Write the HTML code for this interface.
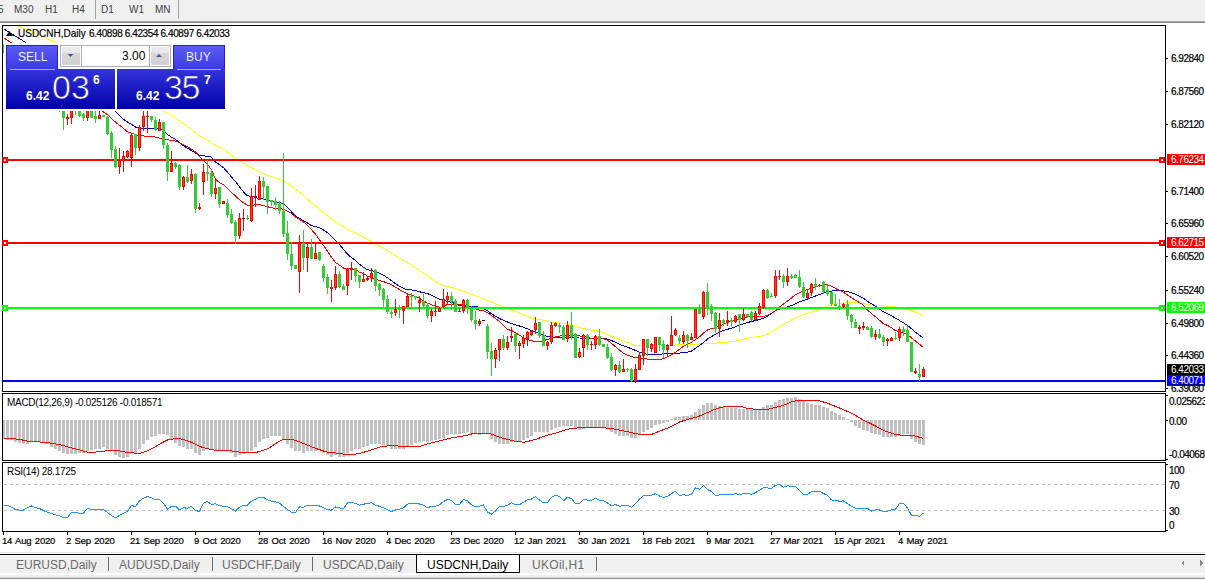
<!DOCTYPE html>
<html><head><meta charset="utf-8">
<style>
*{margin:0;padding:0;box-sizing:border-box}
html,body{width:1205px;height:580px;overflow:hidden;background:#fff;font-family:"Liberation Sans",sans-serif;position:relative}
.a{position:absolute;white-space:nowrap;line-height:1}
.tb{font-size:10px;color:#404040}
.ax{font-size:10px;color:#000;letter-spacing:-0.5px;-webkit-text-stroke:0.2px #000}
.bx{font-size:10px;color:#fff;letter-spacing:-0.5px}
.tab{font-size:12px;color:#6a6a6a}
svg{position:absolute;left:0;top:0}
</style></head><body>

<div class="a" style="left:0;top:0;width:1205px;height:21px;background:#f0f0f0"></div>
<div class="a" style="left:0;top:21px;width:1205px;height:1px;background:#a8a8a8"></div>
<div class="a" style="left:0;top:22px;width:1205px;height:1px;background:#868686"></div>
<div class="a" style="left:95px;top:0;width:1px;height:19px;background:#a0a0a0"></div>
<div class="a" style="left:178px;top:0;width:1px;height:19px;background:#a0a0a0"></div>
<div class="a" style="left:96px;top:0;width:24px;height:19px;background:repeating-conic-gradient(#f8f8f8 0 25%,#e8e8e8 0 50%) 0 0/2px 2px"></div>
<div class="a tb" style="left:-2px;top:5px">5</div>
<div class="a tb" style="left:14px;top:5px">M30</div>
<div class="a tb" style="left:45px;top:5px">H1</div>
<div class="a tb" style="left:72px;top:5px">H4</div>
<div class="a tb" style="left:101px;top:5px">D1</div>
<div class="a tb" style="left:129px;top:5px">W1</div>
<div class="a tb" style="left:155px;top:5px">MN</div>
<svg width="1205" height="580" shape-rendering="crispEdges">
<rect x="2.5" y="25.5" width="1163" height="366" fill="none" stroke="#000"/>
<rect x="2.5" y="393.5" width="1163" height="67" fill="none" stroke="#000"/>
<rect x="2.5" y="462.5" width="1163" height="69" fill="none" stroke="#000"/>
<defs><clipPath id="cm"><rect x="3" y="26" width="1162" height="365"/></clipPath><clipPath id="cd"><rect x="3" y="394" width="1162" height="66"/></clipPath><clipPath id="cr"><rect x="3" y="463" width="1162" height="68"/></clipPath></defs>
<g clip-path="url(#cm)">
<polyline points="3.5,19.6 7.5,21.3 11.5,23.0 15.5,24.8 19.5,26.5 23.5,28.2 27.5,30.0 31.5,31.7 35.5,33.4 39.5,35.2 43.5,36.9 47.5,38.7 51.5,40.4 55.5,42.1 59.5,44.3 63.5,46.8 67.5,49.4 71.5,52.0 75.5,54.5 79.5,57.1 83.5,59.7 87.5,62.2 91.5,64.8 95.5,67.4 99.5,69.9 103.5,72.5 107.5,75.1 111.5,77.6 115.5,80.2 119.5,82.7 123.5,85.3 127.5,87.9 131.5,90.4 135.5,93.0 139.5,95.6 143.5,98.1 147.5,100.7 151.5,103.3 155.5,105.8 159.5,108.4 163.5,111.0 167.5,113.2 171.5,115.3 175.5,117.8 179.5,120.8 183.5,123.7 187.5,126.5 191.5,129.5 195.5,132.8 199.5,135.8 203.5,137.7 207.5,140.1 211.5,143.2 215.5,145.7 219.5,147.4 223.5,149.1 227.5,152.1 231.5,155.2 235.5,158.4 239.5,161.0 243.5,163.3 247.5,165.6 251.5,167.7 255.5,169.7 259.5,171.7 263.5,173.7 267.5,175.1 271.5,176.4 275.5,177.8 279.5,179.4 283.5,180.9 287.5,183.3 291.5,186.3 295.5,189.2 299.5,192.2 303.5,195.4 307.5,199.2 311.5,202.8 315.5,206.1 319.5,209.5 323.5,212.7 327.5,215.7 331.5,218.8 335.5,221.7 339.5,224.1 343.5,226.6 347.5,229.1 351.5,231.6 355.5,232.7 359.5,234.5 363.5,237.0 367.5,239.4 371.5,241.6 375.5,244.0 379.5,246.5 383.5,248.3 387.5,250.6 391.5,253.1 395.5,255.7 399.5,258.2 403.5,260.7 407.5,262.7 411.5,264.7 415.5,267.7 419.5,270.5 423.5,273.0 427.5,275.8 431.5,278.8 435.5,281.5 439.5,283.7 443.5,285.8 447.5,286.4 451.5,287.4 455.5,288.6 459.5,290.0 463.5,291.3 467.5,292.7 471.5,294.2 475.5,295.7 479.5,297.3 483.5,298.9 487.5,300.5 491.5,302.1 495.5,303.7 499.5,305.2 503.5,306.7 507.5,308.3 511.5,310.0 515.5,311.5 519.5,313.0 523.5,314.5 527.5,316.3 531.5,318.0 535.5,318.9 539.5,319.4 543.5,320.2 547.5,321.2 551.5,322.2 555.5,322.5 559.5,322.9 563.5,323.6 567.5,324.4 571.5,325.2 575.5,326.4 579.5,327.6 583.5,328.6 587.5,329.4 591.5,330.1 595.5,330.6 599.5,331.3 603.5,333.0 607.5,334.5 611.5,336.0 615.5,337.6 619.5,339.2 623.5,340.9 627.5,342.5 631.5,344.1 635.5,345.7 639.5,345.8 643.5,345.9 647.5,345.9 651.5,346.0 655.5,345.8 659.5,345.6 663.5,345.5 667.5,345.3 671.5,345.2 675.5,345.0 679.5,344.8 683.5,344.7 687.5,344.5 691.5,344.4 695.5,344.2 699.5,344.0 703.5,343.8 707.5,343.6 711.5,343.4 715.5,343.1 719.5,342.9 723.5,342.6 727.5,342.2 731.5,341.8 735.5,341.1 739.5,340.1 743.5,339.2 747.5,338.3 751.5,337.4 755.5,337.0 759.5,336.9 763.5,335.5 767.5,334.0 771.5,331.9 775.5,329.3 779.5,326.7 783.5,324.4 787.5,322.2 791.5,320.0 795.5,317.8 799.5,316.3 803.5,314.9 807.5,313.5 811.5,312.1 815.5,310.7 819.5,309.3 823.5,307.9 827.5,306.4 831.5,304.6 835.5,304.1 839.5,303.7 843.5,303.2 847.5,302.6 851.5,302.5 855.5,302.7 859.5,302.9 863.5,303.6 867.5,304.4 871.5,305.2 875.5,305.4 879.5,305.6 883.5,305.9 887.5,306.2 891.5,306.5 895.5,307.0 899.5,307.8 903.5,308.6 907.5,309.4 911.5,310.6 915.5,312.1 919.5,313.7 923.5,315.2" fill="none" stroke="#ffff00" stroke-width="1" shape-rendering="crispEdges"/>
<polyline points="3.5,28.8 7.5,31.3 11.5,33.7 15.5,36.2 19.5,38.7 23.5,41.1 27.5,43.8 31.5,46.8 35.5,49.9 39.5,53.0 43.5,56.1 47.5,59.2 51.5,62.2 55.5,65.3 59.5,68.4 63.5,71.5 67.5,74.6 71.5,77.6 75.5,80.7 79.5,83.8 83.5,86.9 87.5,89.9 91.5,93.0 95.5,96.1 99.5,99.2 103.5,102.3 107.5,105.3 111.5,108.4 115.5,111.5 119.5,115.5 123.5,119.4 127.5,122.0 131.5,124.3 135.5,127.0 139.5,128.4 143.5,128.7 147.5,128.7 151.5,128.7 155.5,128.7 159.5,128.7 163.5,131.0 167.5,134.6 171.5,137.1 175.5,139.5 179.5,142.5 183.5,145.7 187.5,148.3 191.5,150.5 195.5,153.0 199.5,155.1 203.5,155.8 207.5,156.3 211.5,157.2 215.5,162.0 219.5,164.8 223.5,167.6 227.5,172.2 231.5,177.0 235.5,181.6 239.5,186.9 243.5,191.8 247.5,195.8 251.5,196.4 255.5,197.4 259.5,198.7 263.5,198.9 267.5,199.4 271.5,201.2 275.5,201.8 279.5,202.4 283.5,203.8 287.5,207.5 291.5,211.8 295.5,215.8 299.5,218.5 303.5,220.6 307.5,222.9 311.5,225.6 315.5,226.6 319.5,227.9 323.5,229.9 327.5,232.7 331.5,236.7 335.5,240.4 339.5,244.6 343.5,249.4 347.5,254.2 351.5,257.5 355.5,260.4 359.5,264.2 363.5,267.3 367.5,269.7 371.5,270.7 375.5,271.4 379.5,273.1 383.5,275.1 387.5,277.8 391.5,280.8 395.5,283.6 399.5,286.4 403.5,288.4 407.5,289.8 411.5,289.9 415.5,290.5 419.5,291.8 423.5,292.7 427.5,293.6 431.5,295.4 435.5,297.4 439.5,299.4 443.5,300.4 447.5,301.3 451.5,302.3 455.5,303.7 459.5,305.4 463.5,306.1 467.5,306.4 471.5,306.5 475.5,306.6 479.5,307.3 483.5,308.8 487.5,310.8 491.5,313.8 495.5,316.2 499.5,318.5 503.5,320.4 507.5,322.0 511.5,323.6 515.5,324.8 519.5,326.0 523.5,327.3 527.5,328.9 531.5,330.5 535.5,331.9 539.5,333.2 543.5,335.0 547.5,336.7 551.5,337.3 555.5,337.8 559.5,337.8 563.5,337.8 567.5,337.8 571.5,337.8 575.5,337.9 579.5,338.0 583.5,338.1 587.5,338.2 591.5,338.2 595.5,338.3 599.5,338.3 603.5,338.4 607.5,339.1 611.5,340.6 615.5,342.4 619.5,344.3 623.5,345.9 627.5,347.3 631.5,348.7 635.5,350.5 639.5,352.3 643.5,353.4 647.5,354.3 651.5,354.8 655.5,354.8 659.5,354.3 663.5,353.8 667.5,353.8 671.5,353.8 675.5,353.5 679.5,353.1 683.5,352.6 687.5,352.1 691.5,351.0 695.5,348.2 699.5,345.5 703.5,342.4 707.5,339.1 711.5,336.6 715.5,334.2 719.5,332.3 723.5,330.5 727.5,329.3 731.5,328.1 735.5,326.7 739.5,325.2 743.5,323.8 747.5,322.5 751.5,321.5 755.5,320.5 759.5,319.5 763.5,318.1 767.5,316.1 771.5,313.5 775.5,310.9 779.5,309.0 783.5,308.0 787.5,307.0 791.5,305.5 795.5,303.8 799.5,301.9 803.5,300.4 807.5,299.0 811.5,297.6 815.5,296.0 819.5,294.4 823.5,293.0 827.5,291.9 831.5,291.1 835.5,290.7 839.5,290.8 843.5,290.9 847.5,291.6 851.5,292.7 855.5,294.3 859.5,296.1 863.5,298.2 867.5,301.4 871.5,303.8 875.5,306.2 879.5,309.2 883.5,311.8 887.5,313.8 891.5,315.8 895.5,318.1 899.5,320.5 903.5,322.9 907.5,325.4 911.5,328.8 915.5,332.2 919.5,335.2 923.5,338.2" fill="none" stroke="#0000cd" stroke-width="1" shape-rendering="crispEdges"/>
<polyline points="3.5,37.6 7.5,40.3 11.5,43.0 15.5,46.0 19.5,49.0 23.5,52.0 27.5,55.0 31.5,58.1 35.5,61.1 39.5,64.1 43.5,67.1 47.5,70.1 51.5,73.1 55.5,76.1 59.5,79.1 63.5,82.1 67.5,85.2 71.5,88.2 75.5,91.2 79.5,94.2 83.5,97.2 87.5,100.2 91.5,103.2 95.5,106.2 99.5,109.2 103.5,112.1 107.5,114.7 111.5,118.4 115.5,122.1 119.5,125.2 123.5,128.3 127.5,131.8 131.5,133.3 135.5,134.6 139.5,135.5 143.5,136.0 147.5,136.2 151.5,136.4 155.5,137.1 159.5,138.2 163.5,139.1 167.5,139.8 171.5,140.5 175.5,141.1 179.5,142.8 183.5,144.8 187.5,146.8 191.5,149.1 195.5,152.0 199.5,156.4 203.5,160.7 207.5,164.0 211.5,170.0 215.5,179.2 219.5,182.5 223.5,184.8 227.5,188.5 231.5,192.5 235.5,195.9 239.5,199.7 243.5,202.7 247.5,205.4 251.5,205.3 255.5,204.8 259.5,204.8 263.5,205.5 267.5,206.7 271.5,207.9 275.5,208.2 279.5,208.5 283.5,209.4 287.5,211.2 291.5,213.4 295.5,217.0 299.5,219.4 303.5,221.8 307.5,225.7 311.5,229.6 315.5,234.2 319.5,239.8 323.5,245.4 327.5,251.1 331.5,257.4 335.5,262.5 339.5,265.1 343.5,268.1 347.5,268.8 351.5,268.9 355.5,269.7 359.5,272.1 363.5,273.4 367.5,276.3 371.5,277.6 375.5,279.1 379.5,280.6 383.5,281.6 387.5,283.1 391.5,284.8 395.5,287.1 399.5,289.6 403.5,291.8 407.5,293.8 411.5,295.2 415.5,296.6 419.5,298.4 423.5,300.7 427.5,303.2 431.5,304.7 435.5,306.1 439.5,307.1 443.5,307.1 447.5,304.3 451.5,304.3 455.5,304.5 459.5,304.8 463.5,305.2 467.5,306.0 471.5,307.5 475.5,308.9 479.5,310.1 483.5,310.8 487.5,312.6 491.5,315.6 495.5,318.6 499.5,321.6 503.5,325.5 507.5,329.6 511.5,330.4 515.5,332.7 519.5,335.3 523.5,337.7 527.5,339.5 531.5,340.7 535.5,341.4 539.5,341.7 543.5,340.7 547.5,339.3 551.5,338.4 555.5,337.0 559.5,336.1 563.5,335.5 567.5,335.3 571.5,335.0 575.5,335.4 579.5,335.9 583.5,336.5 587.5,337.4 591.5,338.4 595.5,338.6 599.5,338.6 603.5,338.6 607.5,340.1 611.5,343.5 615.5,346.7 619.5,350.0 623.5,353.4 627.5,355.1 631.5,356.5 635.5,357.9 639.5,357.9 643.5,358.3 647.5,359.1 651.5,359.9 655.5,359.7 659.5,359.3 663.5,358.9 667.5,356.9 671.5,354.9 675.5,352.3 679.5,349.4 683.5,346.2 687.5,344.0 691.5,342.2 695.5,339.5 699.5,336.9 703.5,333.0 707.5,330.0 711.5,328.5 715.5,327.7 719.5,326.2 723.5,324.0 727.5,322.3 731.5,321.4 735.5,320.3 739.5,319.0 743.5,317.8 747.5,317.0 751.5,316.6 755.5,316.4 759.5,316.6 763.5,316.6 767.5,315.1 771.5,313.4 775.5,310.8 779.5,307.1 783.5,304.1 787.5,301.1 791.5,297.9 795.5,294.8 799.5,292.7 803.5,290.9 807.5,289.4 811.5,288.1 815.5,286.8 819.5,285.7 823.5,285.1 827.5,284.9 831.5,286.1 835.5,288.5 839.5,290.4 843.5,292.3 847.5,294.9 851.5,297.6 855.5,300.2 859.5,302.5 863.5,305.1 867.5,310.1 871.5,313.5 875.5,316.8 879.5,320.3 883.5,323.7 887.5,325.4 891.5,327.7 895.5,330.6 899.5,331.5 903.5,332.7 907.5,334.5 911.5,337.9 915.5,341.1 919.5,344.3 923.5,347.5" fill="none" stroke="#ff0000" stroke-width="1" shape-rendering="crispEdges"/>
<rect x="3" y="159" width="1162" height="2" fill="#ff0000"/>
<rect x="3" y="242" width="1162" height="2" fill="#ff0000"/>
<rect x="3" y="307" width="1162" height="2" fill="#00ff00"/>
<rect x="3" y="380" width="1162" height="2" fill="#0000ff"/>
<rect x="3" y="44" width="1" height="9" fill="#32cd32"/>
<rect x="2" y="46" width="3" height="4" fill="#32cd32"/>
<rect x="7" y="48" width="1" height="12" fill="#ff0000"/>
<rect x="6" y="50" width="3" height="6" fill="#ff0000"/>
<rect x="7" y="51" width="1" height="4" fill="#ff4500"/>
<rect x="11" y="52" width="1" height="14" fill="#32cd32"/>
<rect x="10" y="54" width="3" height="8" fill="#32cd32"/>
<rect x="15" y="58" width="1" height="12" fill="#32cd32"/>
<rect x="14" y="60" width="3" height="8" fill="#32cd32"/>
<rect x="19" y="60" width="1" height="14" fill="#ff0000"/>
<rect x="18" y="63" width="3" height="7" fill="#ff0000"/>
<rect x="19" y="64" width="1" height="5" fill="#ff4500"/>
<rect x="23" y="62" width="1" height="18" fill="#32cd32"/>
<rect x="22" y="64" width="3" height="12" fill="#32cd32"/>
<rect x="27" y="72" width="1" height="14" fill="#32cd32"/>
<rect x="26" y="75" width="3" height="7" fill="#32cd32"/>
<rect x="31" y="70" width="1" height="14" fill="#ff0000"/>
<rect x="30" y="74" width="3" height="6" fill="#ff0000"/>
<rect x="31" y="75" width="1" height="4" fill="#ff4500"/>
<rect x="35" y="74" width="1" height="16" fill="#32cd32"/>
<rect x="34" y="76" width="3" height="10" fill="#32cd32"/>
<rect x="39" y="80" width="1" height="12" fill="#ff0000"/>
<rect x="38" y="83" width="3" height="5" fill="#ff0000"/>
<rect x="39" y="84" width="1" height="3" fill="#ff4500"/>
<rect x="43" y="82" width="1" height="16" fill="#32cd32"/>
<rect x="42" y="86" width="3" height="8" fill="#32cd32"/>
<rect x="47" y="90" width="1" height="14" fill="#32cd32"/>
<rect x="46" y="92" width="3" height="8" fill="#32cd32"/>
<rect x="51" y="92" width="1" height="12" fill="#ff0000"/>
<rect x="50" y="96" width="3" height="5" fill="#ff0000"/>
<rect x="51" y="97" width="1" height="3" fill="#ff4500"/>
<rect x="55" y="96" width="1" height="13" fill="#32cd32"/>
<rect x="54" y="100" width="3" height="6" fill="#32cd32"/>
<rect x="59" y="100" width="1" height="12" fill="#32cd32"/>
<rect x="58" y="103" width="3" height="5" fill="#32cd32"/>
<rect x="63" y="100" width="1" height="30" fill="#32cd32"/>
<rect x="62" y="104" width="3" height="14" fill="#32cd32"/>
<rect x="67" y="114" width="1" height="11" fill="#ff0000"/>
<rect x="66" y="117" width="3" height="2" fill="#ff0000"/>
<rect x="71" y="104" width="1" height="20" fill="#ff0000"/>
<rect x="70" y="106" width="3" height="12" fill="#ff0000"/>
<rect x="71" y="107" width="1" height="10" fill="#ff4500"/>
<rect x="75" y="100" width="1" height="15" fill="#32cd32"/>
<rect x="74" y="103" width="3" height="5" fill="#32cd32"/>
<rect x="79" y="104" width="1" height="13" fill="#32cd32"/>
<rect x="78" y="108" width="3" height="8" fill="#32cd32"/>
<rect x="83" y="113" width="1" height="8" fill="#32cd32"/>
<rect x="82" y="114" width="3" height="4" fill="#32cd32"/>
<rect x="87" y="104" width="1" height="17" fill="#ff0000"/>
<rect x="86" y="108" width="3" height="10" fill="#ff0000"/>
<rect x="87" y="109" width="1" height="8" fill="#ff4500"/>
<rect x="91" y="104" width="1" height="14" fill="#32cd32"/>
<rect x="90" y="110" width="3" height="8" fill="#32cd32"/>
<rect x="95" y="106" width="1" height="17" fill="#32cd32"/>
<rect x="94" y="116" width="3" height="3" fill="#32cd32"/>
<rect x="99" y="111" width="1" height="8" fill="#ff0000"/>
<rect x="98" y="115" width="3" height="4" fill="#ff0000"/>
<rect x="99" y="116" width="1" height="2" fill="#ff4500"/>
<rect x="103" y="115" width="1" height="2" fill="#32cd32"/>
<rect x="102" y="115" width="3" height="2" fill="#32cd32"/>
<rect x="107" y="116" width="1" height="19" fill="#32cd32"/>
<rect x="106" y="117" width="3" height="17" fill="#32cd32"/>
<rect x="111" y="131" width="1" height="27" fill="#32cd32"/>
<rect x="110" y="133" width="3" height="17" fill="#32cd32"/>
<rect x="115" y="146" width="1" height="22" fill="#32cd32"/>
<rect x="114" y="149" width="3" height="18" fill="#32cd32"/>
<rect x="119" y="148" width="1" height="26" fill="#ff0000"/>
<rect x="118" y="160" width="3" height="7" fill="#ff0000"/>
<rect x="119" y="161" width="1" height="5" fill="#ff4500"/>
<rect x="123" y="151" width="1" height="21" fill="#ff0000"/>
<rect x="122" y="156" width="3" height="4" fill="#ff0000"/>
<rect x="123" y="157" width="1" height="2" fill="#ff4500"/>
<rect x="127" y="150" width="1" height="8" fill="#ff0000"/>
<rect x="126" y="151" width="3" height="6" fill="#ff0000"/>
<rect x="127" y="152" width="1" height="4" fill="#ff4500"/>
<rect x="131" y="133" width="1" height="34" fill="#ff0000"/>
<rect x="130" y="135" width="3" height="23" fill="#ff0000"/>
<rect x="131" y="136" width="1" height="21" fill="#ff4500"/>
<rect x="135" y="134" width="1" height="21" fill="#32cd32"/>
<rect x="134" y="134" width="3" height="14" fill="#32cd32"/>
<rect x="139" y="125" width="1" height="26" fill="#ff0000"/>
<rect x="138" y="127" width="3" height="21" fill="#ff0000"/>
<rect x="139" y="128" width="1" height="19" fill="#ff4500"/>
<rect x="143" y="111" width="1" height="20" fill="#ff0000"/>
<rect x="142" y="116" width="3" height="11" fill="#ff0000"/>
<rect x="143" y="117" width="1" height="9" fill="#ff4500"/>
<rect x="147" y="111" width="1" height="22" fill="#ff0000"/>
<rect x="146" y="116" width="3" height="1" fill="#ff0000"/>
<rect x="151" y="116" width="1" height="6" fill="#32cd32"/>
<rect x="150" y="116" width="3" height="4" fill="#32cd32"/>
<rect x="155" y="117" width="1" height="14" fill="#32cd32"/>
<rect x="154" y="120" width="3" height="10" fill="#32cd32"/>
<rect x="159" y="119" width="1" height="12" fill="#ff0000"/>
<rect x="158" y="122" width="3" height="9" fill="#ff0000"/>
<rect x="159" y="123" width="1" height="7" fill="#ff4500"/>
<rect x="163" y="122" width="1" height="27" fill="#32cd32"/>
<rect x="162" y="122" width="3" height="23" fill="#32cd32"/>
<rect x="167" y="143" width="1" height="38" fill="#32cd32"/>
<rect x="166" y="145" width="3" height="27" fill="#32cd32"/>
<rect x="171" y="151" width="1" height="21" fill="#ff0000"/>
<rect x="170" y="163" width="3" height="9" fill="#ff0000"/>
<rect x="171" y="164" width="1" height="7" fill="#ff4500"/>
<rect x="175" y="162" width="1" height="7" fill="#32cd32"/>
<rect x="174" y="163" width="3" height="4" fill="#32cd32"/>
<rect x="179" y="164" width="1" height="26" fill="#32cd32"/>
<rect x="178" y="165" width="3" height="22" fill="#32cd32"/>
<rect x="183" y="176" width="1" height="14" fill="#ff0000"/>
<rect x="182" y="177" width="3" height="10" fill="#ff0000"/>
<rect x="183" y="178" width="1" height="8" fill="#ff4500"/>
<rect x="187" y="165" width="1" height="18" fill="#32cd32"/>
<rect x="186" y="177" width="3" height="5" fill="#32cd32"/>
<rect x="191" y="169" width="1" height="15" fill="#ff0000"/>
<rect x="190" y="174" width="3" height="7" fill="#ff0000"/>
<rect x="191" y="175" width="1" height="5" fill="#ff4500"/>
<rect x="195" y="173" width="1" height="40" fill="#32cd32"/>
<rect x="194" y="174" width="3" height="35" fill="#32cd32"/>
<rect x="199" y="203" width="1" height="7" fill="#ff0000"/>
<rect x="198" y="207" width="3" height="2" fill="#ff0000"/>
<rect x="203" y="164" width="1" height="31" fill="#ff0000"/>
<rect x="202" y="172" width="3" height="10" fill="#ff0000"/>
<rect x="203" y="173" width="1" height="8" fill="#ff4500"/>
<rect x="207" y="160" width="1" height="21" fill="#32cd32"/>
<rect x="206" y="172" width="3" height="2" fill="#32cd32"/>
<rect x="211" y="169" width="1" height="28" fill="#32cd32"/>
<rect x="210" y="173" width="3" height="21" fill="#32cd32"/>
<rect x="215" y="179" width="1" height="20" fill="#ff0000"/>
<rect x="214" y="188" width="3" height="6" fill="#ff0000"/>
<rect x="215" y="189" width="1" height="4" fill="#ff4500"/>
<rect x="219" y="187" width="1" height="21" fill="#32cd32"/>
<rect x="218" y="187" width="3" height="17" fill="#32cd32"/>
<rect x="223" y="201" width="1" height="3" fill="#ff0000"/>
<rect x="222" y="201" width="3" height="3" fill="#ff0000"/>
<rect x="223" y="202" width="1" height="1" fill="#ff4500"/>
<rect x="227" y="199" width="1" height="19" fill="#32cd32"/>
<rect x="226" y="203" width="3" height="12" fill="#32cd32"/>
<rect x="231" y="209" width="1" height="15" fill="#32cd32"/>
<rect x="230" y="214" width="3" height="9" fill="#32cd32"/>
<rect x="235" y="220" width="1" height="24" fill="#32cd32"/>
<rect x="234" y="222" width="3" height="14" fill="#32cd32"/>
<rect x="239" y="213" width="1" height="26" fill="#ff0000"/>
<rect x="238" y="218" width="3" height="18" fill="#ff0000"/>
<rect x="239" y="219" width="1" height="16" fill="#ff4500"/>
<rect x="243" y="209" width="1" height="22" fill="#ff0000"/>
<rect x="242" y="218" width="3" height="1" fill="#ff0000"/>
<rect x="247" y="215" width="1" height="5" fill="#32cd32"/>
<rect x="246" y="218" width="3" height="1" fill="#32cd32"/>
<rect x="251" y="188" width="1" height="34" fill="#ff0000"/>
<rect x="250" y="196" width="3" height="25" fill="#ff0000"/>
<rect x="251" y="197" width="1" height="23" fill="#ff4500"/>
<rect x="255" y="185" width="1" height="22" fill="#ff0000"/>
<rect x="254" y="196" width="3" height="1" fill="#ff0000"/>
<rect x="259" y="176" width="1" height="24" fill="#ff0000"/>
<rect x="258" y="181" width="3" height="19" fill="#ff0000"/>
<rect x="259" y="182" width="1" height="17" fill="#ff4500"/>
<rect x="263" y="177" width="1" height="23" fill="#32cd32"/>
<rect x="262" y="181" width="3" height="6" fill="#32cd32"/>
<rect x="267" y="186" width="1" height="28" fill="#32cd32"/>
<rect x="266" y="186" width="3" height="16" fill="#32cd32"/>
<rect x="271" y="200" width="1" height="6" fill="#32cd32"/>
<rect x="270" y="200" width="3" height="2" fill="#32cd32"/>
<rect x="275" y="197" width="1" height="13" fill="#32cd32"/>
<rect x="274" y="201" width="3" height="4" fill="#32cd32"/>
<rect x="279" y="201" width="1" height="13" fill="#32cd32"/>
<rect x="278" y="204" width="3" height="7" fill="#32cd32"/>
<rect x="283" y="153" width="1" height="84" fill="#32cd32"/>
<rect x="282" y="211" width="3" height="23" fill="#32cd32"/>
<rect x="287" y="221" width="1" height="39" fill="#32cd32"/>
<rect x="286" y="233" width="3" height="21" fill="#32cd32"/>
<rect x="291" y="242" width="1" height="28" fill="#32cd32"/>
<rect x="290" y="254" width="3" height="12" fill="#32cd32"/>
<rect x="295" y="265" width="1" height="4" fill="#32cd32"/>
<rect x="294" y="265" width="3" height="4" fill="#32cd32"/>
<rect x="299" y="235" width="1" height="58" fill="#ff0000"/>
<rect x="298" y="243" width="3" height="29" fill="#ff0000"/>
<rect x="299" y="244" width="1" height="27" fill="#ff4500"/>
<rect x="303" y="230" width="1" height="40" fill="#32cd32"/>
<rect x="302" y="243" width="3" height="15" fill="#32cd32"/>
<rect x="307" y="243" width="1" height="29" fill="#ff0000"/>
<rect x="306" y="247" width="3" height="11" fill="#ff0000"/>
<rect x="307" y="248" width="1" height="9" fill="#ff4500"/>
<rect x="311" y="239" width="1" height="20" fill="#32cd32"/>
<rect x="310" y="247" width="3" height="12" fill="#32cd32"/>
<rect x="315" y="243" width="1" height="16" fill="#ff0000"/>
<rect x="314" y="253" width="3" height="6" fill="#ff0000"/>
<rect x="315" y="254" width="1" height="4" fill="#ff4500"/>
<rect x="319" y="252" width="1" height="9" fill="#32cd32"/>
<rect x="318" y="252" width="3" height="8" fill="#32cd32"/>
<rect x="323" y="264" width="1" height="18" fill="#32cd32"/>
<rect x="322" y="266" width="3" height="12" fill="#32cd32"/>
<rect x="327" y="274" width="1" height="20" fill="#32cd32"/>
<rect x="326" y="277" width="3" height="11" fill="#32cd32"/>
<rect x="331" y="280" width="1" height="22" fill="#ff0000"/>
<rect x="330" y="287" width="3" height="2" fill="#ff0000"/>
<rect x="335" y="266" width="1" height="24" fill="#ff0000"/>
<rect x="334" y="274" width="3" height="14" fill="#ff0000"/>
<rect x="335" y="275" width="1" height="12" fill="#ff4500"/>
<rect x="339" y="271" width="1" height="17" fill="#32cd32"/>
<rect x="338" y="274" width="3" height="13" fill="#32cd32"/>
<rect x="343" y="284" width="1" height="6" fill="#32cd32"/>
<rect x="342" y="286" width="3" height="4" fill="#32cd32"/>
<rect x="347" y="268" width="1" height="27" fill="#ff0000"/>
<rect x="346" y="268" width="3" height="18" fill="#ff0000"/>
<rect x="347" y="269" width="1" height="16" fill="#ff4500"/>
<rect x="351" y="262" width="1" height="18" fill="#ff0000"/>
<rect x="350" y="268" width="3" height="2" fill="#ff0000"/>
<rect x="355" y="268" width="1" height="14" fill="#32cd32"/>
<rect x="354" y="268" width="3" height="8" fill="#32cd32"/>
<rect x="359" y="275" width="1" height="13" fill="#32cd32"/>
<rect x="358" y="275" width="3" height="7" fill="#32cd32"/>
<rect x="363" y="272" width="1" height="10" fill="#ff0000"/>
<rect x="362" y="279" width="3" height="3" fill="#ff0000"/>
<rect x="363" y="280" width="1" height="1" fill="#ff4500"/>
<rect x="367" y="276" width="1" height="5" fill="#ff0000"/>
<rect x="366" y="278" width="3" height="2" fill="#ff0000"/>
<rect x="371" y="268" width="1" height="14" fill="#ff0000"/>
<rect x="370" y="273" width="3" height="5" fill="#ff0000"/>
<rect x="371" y="274" width="1" height="3" fill="#ff4500"/>
<rect x="375" y="269" width="1" height="22" fill="#32cd32"/>
<rect x="374" y="270" width="3" height="16" fill="#32cd32"/>
<rect x="379" y="283" width="1" height="13" fill="#32cd32"/>
<rect x="378" y="284" width="3" height="6" fill="#32cd32"/>
<rect x="383" y="288" width="1" height="19" fill="#32cd32"/>
<rect x="382" y="289" width="3" height="11" fill="#32cd32"/>
<rect x="387" y="295" width="1" height="19" fill="#32cd32"/>
<rect x="386" y="299" width="3" height="13" fill="#32cd32"/>
<rect x="391" y="310" width="1" height="8" fill="#32cd32"/>
<rect x="390" y="312" width="3" height="2" fill="#32cd32"/>
<rect x="395" y="299" width="1" height="17" fill="#ff0000"/>
<rect x="394" y="309" width="3" height="4" fill="#ff0000"/>
<rect x="395" y="310" width="1" height="2" fill="#ff4500"/>
<rect x="399" y="305" width="1" height="13" fill="#32cd32"/>
<rect x="398" y="308" width="3" height="2" fill="#32cd32"/>
<rect x="403" y="306" width="1" height="18" fill="#ff0000"/>
<rect x="402" y="306" width="3" height="5" fill="#ff0000"/>
<rect x="403" y="307" width="1" height="3" fill="#ff4500"/>
<rect x="407" y="293" width="1" height="14" fill="#ff0000"/>
<rect x="406" y="296" width="3" height="11" fill="#ff0000"/>
<rect x="407" y="297" width="1" height="9" fill="#ff4500"/>
<rect x="411" y="293" width="1" height="15" fill="#32cd32"/>
<rect x="410" y="296" width="3" height="1" fill="#32cd32"/>
<rect x="415" y="296" width="1" height="4" fill="#32cd32"/>
<rect x="414" y="296" width="3" height="2" fill="#32cd32"/>
<rect x="419" y="296" width="1" height="16" fill="#ff0000"/>
<rect x="418" y="300" width="3" height="3" fill="#ff0000"/>
<rect x="419" y="301" width="1" height="1" fill="#ff4500"/>
<rect x="423" y="294" width="1" height="13" fill="#32cd32"/>
<rect x="422" y="301" width="3" height="5" fill="#32cd32"/>
<rect x="427" y="303" width="1" height="16" fill="#32cd32"/>
<rect x="426" y="305" width="3" height="11" fill="#32cd32"/>
<rect x="431" y="309" width="1" height="13" fill="#ff0000"/>
<rect x="430" y="311" width="3" height="5" fill="#ff0000"/>
<rect x="431" y="312" width="1" height="3" fill="#ff4500"/>
<rect x="435" y="301" width="1" height="15" fill="#ff0000"/>
<rect x="434" y="311" width="3" height="1" fill="#ff0000"/>
<rect x="439" y="307" width="1" height="5" fill="#ff0000"/>
<rect x="438" y="308" width="3" height="4" fill="#ff0000"/>
<rect x="439" y="309" width="1" height="2" fill="#ff4500"/>
<rect x="443" y="289" width="1" height="19" fill="#ff0000"/>
<rect x="442" y="299" width="3" height="8" fill="#ff0000"/>
<rect x="443" y="300" width="1" height="6" fill="#ff4500"/>
<rect x="447" y="292" width="1" height="12" fill="#ff0000"/>
<rect x="446" y="296" width="3" height="4" fill="#ff0000"/>
<rect x="447" y="297" width="1" height="2" fill="#ff4500"/>
<rect x="451" y="292" width="1" height="18" fill="#32cd32"/>
<rect x="450" y="296" width="3" height="6" fill="#32cd32"/>
<rect x="455" y="299" width="1" height="13" fill="#32cd32"/>
<rect x="454" y="301" width="3" height="11" fill="#32cd32"/>
<rect x="459" y="309" width="1" height="3" fill="#ff0000"/>
<rect x="458" y="311" width="3" height="1" fill="#ff0000"/>
<rect x="463" y="299" width="1" height="14" fill="#ff0000"/>
<rect x="462" y="300" width="3" height="11" fill="#ff0000"/>
<rect x="463" y="301" width="1" height="9" fill="#ff4500"/>
<rect x="467" y="299" width="1" height="15" fill="#32cd32"/>
<rect x="466" y="300" width="3" height="8" fill="#32cd32"/>
<rect x="471" y="306" width="1" height="16" fill="#32cd32"/>
<rect x="470" y="307" width="3" height="13" fill="#32cd32"/>
<rect x="475" y="311" width="1" height="18" fill="#32cd32"/>
<rect x="474" y="320" width="3" height="4" fill="#32cd32"/>
<rect x="479" y="319" width="1" height="7" fill="#ff0000"/>
<rect x="478" y="321" width="3" height="3" fill="#ff0000"/>
<rect x="479" y="322" width="1" height="1" fill="#ff4500"/>
<rect x="482" y="320" width="3" height="1" fill="#000"/>
<rect x="487" y="324" width="1" height="35" fill="#32cd32"/>
<rect x="486" y="326" width="3" height="26" fill="#32cd32"/>
<rect x="491" y="343" width="1" height="33" fill="#32cd32"/>
<rect x="490" y="351" width="3" height="8" fill="#32cd32"/>
<rect x="495" y="348" width="1" height="20" fill="#ff0000"/>
<rect x="494" y="350" width="3" height="9" fill="#ff0000"/>
<rect x="495" y="351" width="1" height="7" fill="#ff4500"/>
<rect x="499" y="339" width="1" height="22" fill="#ff0000"/>
<rect x="498" y="339" width="3" height="11" fill="#ff0000"/>
<rect x="499" y="340" width="1" height="9" fill="#ff4500"/>
<rect x="503" y="335" width="1" height="15" fill="#32cd32"/>
<rect x="502" y="339" width="3" height="9" fill="#32cd32"/>
<rect x="507" y="336" width="1" height="14" fill="#ff0000"/>
<rect x="506" y="342" width="3" height="6" fill="#ff0000"/>
<rect x="507" y="343" width="1" height="4" fill="#ff4500"/>
<rect x="511" y="327" width="1" height="15" fill="#ff0000"/>
<rect x="510" y="336" width="3" height="2" fill="#ff0000"/>
<rect x="515" y="333" width="1" height="19" fill="#32cd32"/>
<rect x="514" y="334" width="3" height="12" fill="#32cd32"/>
<rect x="519" y="341" width="1" height="18" fill="#ff0000"/>
<rect x="518" y="343" width="3" height="3" fill="#ff0000"/>
<rect x="519" y="344" width="1" height="1" fill="#ff4500"/>
<rect x="523" y="335" width="1" height="13" fill="#ff0000"/>
<rect x="522" y="338" width="3" height="6" fill="#ff0000"/>
<rect x="523" y="339" width="1" height="4" fill="#ff4500"/>
<rect x="527" y="331" width="1" height="15" fill="#ff0000"/>
<rect x="526" y="332" width="3" height="7" fill="#ff0000"/>
<rect x="527" y="333" width="1" height="5" fill="#ff4500"/>
<rect x="531" y="330" width="1" height="6" fill="#ff0000"/>
<rect x="530" y="331" width="3" height="4" fill="#ff0000"/>
<rect x="531" y="332" width="1" height="2" fill="#ff4500"/>
<rect x="535" y="317" width="1" height="17" fill="#ff0000"/>
<rect x="534" y="323" width="3" height="7" fill="#ff0000"/>
<rect x="535" y="324" width="1" height="5" fill="#ff4500"/>
<rect x="539" y="322" width="1" height="16" fill="#32cd32"/>
<rect x="538" y="322" width="3" height="14" fill="#32cd32"/>
<rect x="543" y="331" width="1" height="15" fill="#32cd32"/>
<rect x="542" y="335" width="3" height="11" fill="#32cd32"/>
<rect x="547" y="341" width="1" height="9" fill="#ff0000"/>
<rect x="546" y="342" width="3" height="4" fill="#ff0000"/>
<rect x="547" y="343" width="1" height="2" fill="#ff4500"/>
<rect x="551" y="322" width="1" height="22" fill="#ff0000"/>
<rect x="550" y="325" width="3" height="17" fill="#ff0000"/>
<rect x="551" y="326" width="1" height="15" fill="#ff4500"/>
<rect x="555" y="322" width="1" height="5" fill="#ff0000"/>
<rect x="554" y="323" width="3" height="3" fill="#ff0000"/>
<rect x="555" y="324" width="1" height="1" fill="#ff4500"/>
<rect x="559" y="323" width="1" height="10" fill="#32cd32"/>
<rect x="558" y="325" width="3" height="2" fill="#32cd32"/>
<rect x="563" y="325" width="1" height="15" fill="#32cd32"/>
<rect x="562" y="327" width="3" height="13" fill="#32cd32"/>
<rect x="567" y="321" width="1" height="21" fill="#ff0000"/>
<rect x="566" y="325" width="3" height="14" fill="#ff0000"/>
<rect x="567" y="326" width="1" height="12" fill="#ff4500"/>
<rect x="571" y="312" width="1" height="28" fill="#32cd32"/>
<rect x="570" y="325" width="3" height="12" fill="#32cd32"/>
<rect x="575" y="333" width="1" height="25" fill="#32cd32"/>
<rect x="574" y="334" width="3" height="24" fill="#32cd32"/>
<rect x="579" y="348" width="1" height="10" fill="#ff0000"/>
<rect x="578" y="352" width="3" height="5" fill="#ff0000"/>
<rect x="579" y="353" width="1" height="3" fill="#ff4500"/>
<rect x="583" y="334" width="1" height="23" fill="#ff0000"/>
<rect x="582" y="335" width="3" height="13" fill="#ff0000"/>
<rect x="583" y="336" width="1" height="11" fill="#ff4500"/>
<rect x="587" y="334" width="1" height="16" fill="#32cd32"/>
<rect x="586" y="335" width="3" height="10" fill="#32cd32"/>
<rect x="591" y="341" width="1" height="9" fill="#ff0000"/>
<rect x="590" y="344" width="3" height="1" fill="#ff0000"/>
<rect x="595" y="335" width="1" height="14" fill="#ff0000"/>
<rect x="594" y="336" width="3" height="9" fill="#ff0000"/>
<rect x="595" y="337" width="1" height="7" fill="#ff4500"/>
<rect x="599" y="329" width="1" height="17" fill="#32cd32"/>
<rect x="598" y="336" width="3" height="9" fill="#32cd32"/>
<rect x="603" y="344" width="1" height="3" fill="#32cd32"/>
<rect x="602" y="344" width="3" height="3" fill="#32cd32"/>
<rect x="607" y="344" width="1" height="15" fill="#32cd32"/>
<rect x="606" y="347" width="3" height="11" fill="#32cd32"/>
<rect x="611" y="353" width="1" height="18" fill="#32cd32"/>
<rect x="610" y="357" width="3" height="13" fill="#32cd32"/>
<rect x="615" y="364" width="1" height="12" fill="#ff0000"/>
<rect x="614" y="365" width="3" height="5" fill="#ff0000"/>
<rect x="615" y="366" width="1" height="3" fill="#ff4500"/>
<rect x="619" y="361" width="1" height="12" fill="#32cd32"/>
<rect x="618" y="365" width="3" height="7" fill="#32cd32"/>
<rect x="623" y="359" width="1" height="13" fill="#ff0000"/>
<rect x="622" y="369" width="3" height="3" fill="#ff0000"/>
<rect x="623" y="370" width="1" height="1" fill="#ff4500"/>
<rect x="627" y="368" width="1" height="4" fill="#32cd32"/>
<rect x="626" y="369" width="3" height="1" fill="#32cd32"/>
<rect x="631" y="368" width="1" height="14" fill="#32cd32"/>
<rect x="630" y="369" width="3" height="12" fill="#32cd32"/>
<rect x="635" y="364" width="1" height="19" fill="#ff0000"/>
<rect x="634" y="369" width="3" height="12" fill="#ff0000"/>
<rect x="635" y="370" width="1" height="10" fill="#ff4500"/>
<rect x="639" y="352" width="1" height="18" fill="#ff0000"/>
<rect x="638" y="355" width="3" height="15" fill="#ff0000"/>
<rect x="639" y="356" width="1" height="13" fill="#ff4500"/>
<rect x="643" y="339" width="1" height="26" fill="#ff0000"/>
<rect x="642" y="339" width="3" height="17" fill="#ff0000"/>
<rect x="643" y="340" width="1" height="15" fill="#ff4500"/>
<rect x="647" y="339" width="1" height="17" fill="#32cd32"/>
<rect x="646" y="339" width="3" height="9" fill="#32cd32"/>
<rect x="651" y="343" width="1" height="9" fill="#ff0000"/>
<rect x="650" y="344" width="3" height="5" fill="#ff0000"/>
<rect x="651" y="345" width="1" height="3" fill="#ff4500"/>
<rect x="655" y="337" width="1" height="16" fill="#ff0000"/>
<rect x="654" y="337" width="3" height="16" fill="#ff0000"/>
<rect x="655" y="338" width="1" height="14" fill="#ff4500"/>
<rect x="659" y="337" width="1" height="14" fill="#32cd32"/>
<rect x="658" y="337" width="3" height="8" fill="#32cd32"/>
<rect x="663" y="340" width="1" height="18" fill="#32cd32"/>
<rect x="662" y="344" width="3" height="6" fill="#32cd32"/>
<rect x="667" y="344" width="1" height="12" fill="#ff0000"/>
<rect x="666" y="345" width="3" height="5" fill="#ff0000"/>
<rect x="667" y="346" width="1" height="3" fill="#ff4500"/>
<rect x="671" y="316" width="1" height="30" fill="#ff0000"/>
<rect x="670" y="335" width="3" height="11" fill="#ff0000"/>
<rect x="671" y="336" width="1" height="9" fill="#ff4500"/>
<rect x="675" y="328" width="1" height="8" fill="#ff0000"/>
<rect x="674" y="330" width="3" height="5" fill="#ff0000"/>
<rect x="675" y="331" width="1" height="3" fill="#ff4500"/>
<rect x="679" y="335" width="1" height="9" fill="#32cd32"/>
<rect x="678" y="338" width="3" height="3" fill="#32cd32"/>
<rect x="683" y="331" width="1" height="13" fill="#ff0000"/>
<rect x="682" y="335" width="3" height="7" fill="#ff0000"/>
<rect x="683" y="336" width="1" height="5" fill="#ff4500"/>
<rect x="687" y="334" width="1" height="14" fill="#32cd32"/>
<rect x="686" y="335" width="3" height="6" fill="#32cd32"/>
<rect x="691" y="333" width="1" height="7" fill="#ff0000"/>
<rect x="690" y="337" width="3" height="3" fill="#ff0000"/>
<rect x="691" y="338" width="1" height="1" fill="#ff4500"/>
<rect x="695" y="309" width="1" height="29" fill="#ff0000"/>
<rect x="694" y="309" width="3" height="29" fill="#ff0000"/>
<rect x="695" y="310" width="1" height="27" fill="#ff4500"/>
<rect x="699" y="304" width="1" height="10" fill="#32cd32"/>
<rect x="698" y="308" width="3" height="6" fill="#32cd32"/>
<rect x="703" y="291" width="1" height="28" fill="#ff0000"/>
<rect x="702" y="292" width="3" height="25" fill="#ff0000"/>
<rect x="703" y="293" width="1" height="23" fill="#ff4500"/>
<rect x="707" y="283" width="1" height="32" fill="#32cd32"/>
<rect x="706" y="292" width="3" height="16" fill="#32cd32"/>
<rect x="711" y="304" width="1" height="17" fill="#32cd32"/>
<rect x="710" y="306" width="3" height="8" fill="#32cd32"/>
<rect x="715" y="312" width="1" height="21" fill="#32cd32"/>
<rect x="714" y="313" width="3" height="16" fill="#32cd32"/>
<rect x="719" y="313" width="1" height="24" fill="#ff0000"/>
<rect x="718" y="320" width="3" height="9" fill="#ff0000"/>
<rect x="719" y="321" width="1" height="7" fill="#ff4500"/>
<rect x="723" y="319" width="1" height="7" fill="#32cd32"/>
<rect x="722" y="320" width="3" height="3" fill="#32cd32"/>
<rect x="727" y="311" width="1" height="15" fill="#ff0000"/>
<rect x="726" y="320" width="3" height="2" fill="#ff0000"/>
<rect x="731" y="318" width="1" height="9" fill="#32cd32"/>
<rect x="730" y="320" width="3" height="2" fill="#32cd32"/>
<rect x="735" y="315" width="1" height="8" fill="#ff0000"/>
<rect x="734" y="316" width="3" height="6" fill="#ff0000"/>
<rect x="735" y="317" width="1" height="4" fill="#ff4500"/>
<rect x="739" y="314" width="1" height="18" fill="#32cd32"/>
<rect x="738" y="314" width="3" height="6" fill="#32cd32"/>
<rect x="743" y="308" width="1" height="13" fill="#ff0000"/>
<rect x="742" y="314" width="3" height="6" fill="#ff0000"/>
<rect x="743" y="315" width="1" height="4" fill="#ff4500"/>
<rect x="747" y="314" width="1" height="4" fill="#32cd32"/>
<rect x="746" y="314" width="3" height="3" fill="#32cd32"/>
<rect x="751" y="311" width="1" height="10" fill="#32cd32"/>
<rect x="750" y="312" width="3" height="8" fill="#32cd32"/>
<rect x="755" y="311" width="1" height="10" fill="#ff0000"/>
<rect x="754" y="313" width="3" height="7" fill="#ff0000"/>
<rect x="755" y="314" width="1" height="5" fill="#ff4500"/>
<rect x="759" y="303" width="1" height="12" fill="#ff0000"/>
<rect x="758" y="306" width="3" height="8" fill="#ff0000"/>
<rect x="759" y="307" width="1" height="6" fill="#ff4500"/>
<rect x="763" y="289" width="1" height="20" fill="#ff0000"/>
<rect x="762" y="290" width="3" height="18" fill="#ff0000"/>
<rect x="763" y="291" width="1" height="16" fill="#ff4500"/>
<rect x="767" y="289" width="1" height="10" fill="#32cd32"/>
<rect x="766" y="290" width="3" height="8" fill="#32cd32"/>
<rect x="771" y="293" width="1" height="4" fill="#32cd32"/>
<rect x="770" y="296" width="3" height="1" fill="#32cd32"/>
<rect x="775" y="270" width="1" height="28" fill="#ff0000"/>
<rect x="774" y="276" width="3" height="20" fill="#ff0000"/>
<rect x="775" y="277" width="1" height="18" fill="#ff4500"/>
<rect x="779" y="270" width="1" height="10" fill="#ff0000"/>
<rect x="778" y="276" width="3" height="1" fill="#ff0000"/>
<rect x="783" y="274" width="1" height="14" fill="#32cd32"/>
<rect x="782" y="276" width="3" height="6" fill="#32cd32"/>
<rect x="787" y="268" width="1" height="18" fill="#ff0000"/>
<rect x="786" y="276" width="3" height="6" fill="#ff0000"/>
<rect x="787" y="277" width="1" height="4" fill="#ff4500"/>
<rect x="791" y="274" width="1" height="5" fill="#32cd32"/>
<rect x="790" y="276" width="3" height="2" fill="#32cd32"/>
<rect x="795" y="274" width="1" height="4" fill="#32cd32"/>
<rect x="794" y="275" width="3" height="3" fill="#32cd32"/>
<rect x="799" y="270" width="1" height="18" fill="#32cd32"/>
<rect x="798" y="277" width="3" height="10" fill="#32cd32"/>
<rect x="803" y="282" width="1" height="16" fill="#32cd32"/>
<rect x="802" y="287" width="3" height="10" fill="#32cd32"/>
<rect x="807" y="289" width="1" height="10" fill="#ff0000"/>
<rect x="806" y="293" width="3" height="5" fill="#ff0000"/>
<rect x="807" y="294" width="1" height="3" fill="#ff4500"/>
<rect x="811" y="283" width="1" height="13" fill="#ff0000"/>
<rect x="810" y="284" width="3" height="9" fill="#ff0000"/>
<rect x="811" y="285" width="1" height="7" fill="#ff4500"/>
<rect x="815" y="278" width="1" height="12" fill="#32cd32"/>
<rect x="814" y="284" width="3" height="3" fill="#32cd32"/>
<rect x="819" y="284" width="1" height="3" fill="#ff0000"/>
<rect x="818" y="285" width="3" height="1" fill="#ff0000"/>
<rect x="823" y="281" width="1" height="13" fill="#32cd32"/>
<rect x="822" y="282" width="3" height="10" fill="#32cd32"/>
<rect x="827" y="285" width="1" height="11" fill="#32cd32"/>
<rect x="826" y="290" width="3" height="4" fill="#32cd32"/>
<rect x="831" y="292" width="1" height="14" fill="#32cd32"/>
<rect x="830" y="292" width="3" height="12" fill="#32cd32"/>
<rect x="835" y="294" width="1" height="12" fill="#32cd32"/>
<rect x="834" y="304" width="3" height="2" fill="#32cd32"/>
<rect x="839" y="299" width="1" height="11" fill="#32cd32"/>
<rect x="838" y="306" width="3" height="2" fill="#32cd32"/>
<rect x="843" y="303" width="1" height="5" fill="#ff0000"/>
<rect x="842" y="304" width="3" height="3" fill="#ff0000"/>
<rect x="843" y="305" width="1" height="1" fill="#ff4500"/>
<rect x="847" y="300" width="1" height="20" fill="#32cd32"/>
<rect x="846" y="304" width="3" height="12" fill="#32cd32"/>
<rect x="851" y="314" width="1" height="14" fill="#32cd32"/>
<rect x="850" y="315" width="3" height="7" fill="#32cd32"/>
<rect x="855" y="319" width="1" height="9" fill="#32cd32"/>
<rect x="854" y="322" width="3" height="6" fill="#32cd32"/>
<rect x="859" y="325" width="1" height="9" fill="#ff0000"/>
<rect x="858" y="327" width="3" height="2" fill="#ff0000"/>
<rect x="863" y="322" width="1" height="8" fill="#ff0000"/>
<rect x="862" y="326" width="3" height="2" fill="#ff0000"/>
<rect x="867" y="326" width="1" height="4" fill="#32cd32"/>
<rect x="866" y="327" width="3" height="3" fill="#32cd32"/>
<rect x="871" y="326" width="1" height="12" fill="#32cd32"/>
<rect x="870" y="328" width="3" height="9" fill="#32cd32"/>
<rect x="875" y="330" width="1" height="10" fill="#ff0000"/>
<rect x="874" y="334" width="3" height="3" fill="#ff0000"/>
<rect x="875" y="335" width="1" height="1" fill="#ff4500"/>
<rect x="879" y="329" width="1" height="10" fill="#32cd32"/>
<rect x="878" y="334" width="3" height="4" fill="#32cd32"/>
<rect x="883" y="335" width="1" height="11" fill="#32cd32"/>
<rect x="882" y="337" width="3" height="5" fill="#32cd32"/>
<rect x="887" y="338" width="1" height="8" fill="#ff0000"/>
<rect x="886" y="339" width="3" height="2" fill="#ff0000"/>
<rect x="891" y="337" width="1" height="4" fill="#ff0000"/>
<rect x="890" y="338" width="3" height="3" fill="#ff0000"/>
<rect x="891" y="339" width="1" height="1" fill="#ff4500"/>
<rect x="895" y="332" width="1" height="8" fill="#32cd32"/>
<rect x="894" y="338" width="3" height="1" fill="#32cd32"/>
<rect x="899" y="327" width="1" height="14" fill="#ff0000"/>
<rect x="898" y="329" width="3" height="9" fill="#ff0000"/>
<rect x="899" y="330" width="1" height="7" fill="#ff4500"/>
<rect x="903" y="326" width="1" height="10" fill="#32cd32"/>
<rect x="902" y="329" width="3" height="3" fill="#32cd32"/>
<rect x="907" y="326" width="1" height="16" fill="#32cd32"/>
<rect x="906" y="330" width="3" height="12" fill="#32cd32"/>
<rect x="911" y="342" width="1" height="30" fill="#32cd32"/>
<rect x="910" y="342" width="3" height="30" fill="#32cd32"/>
<rect x="915" y="368" width="1" height="6" fill="#ff0000"/>
<rect x="914" y="371" width="3" height="2" fill="#ff0000"/>
<rect x="919" y="364" width="1" height="17" fill="#32cd32"/>
<rect x="918" y="374" width="3" height="3" fill="#32cd32"/>
<rect x="923" y="367" width="1" height="10" fill="#ff0000"/>
<rect x="922" y="369" width="3" height="8" fill="#ff0000"/>
<rect x="923" y="370" width="1" height="6" fill="#ff4500"/>
</g>
<path d="M6 36 L13 36 L9.5 31 Z" fill="#000" shape-rendering="auto"/>
<rect x="1166" y="58" width="2" height="1" fill="#000"/>
<rect x="1166" y="91" width="2" height="1" fill="#000"/>
<rect x="1166" y="124" width="2" height="1" fill="#000"/>
<rect x="1166" y="191" width="2" height="1" fill="#000"/>
<rect x="1166" y="223" width="2" height="1" fill="#000"/>
<rect x="1166" y="256" width="2" height="1" fill="#000"/>
<rect x="1166" y="290" width="2" height="1" fill="#000"/>
<rect x="1166" y="323" width="2" height="1" fill="#000"/>
<rect x="1166" y="355" width="2" height="1" fill="#000"/>
<rect x="1166" y="388" width="2" height="1" fill="#000"/>
<g clip-path="url(#cd)">
<rect x="2" y="420" width="3" height="19" fill="#c0c0c0"/>
<rect x="6" y="420" width="3" height="20" fill="#c0c0c0"/>
<rect x="10" y="420" width="3" height="20" fill="#c0c0c0"/>
<rect x="14" y="420" width="3" height="22" fill="#c0c0c0"/>
<rect x="18" y="420" width="3" height="23" fill="#c0c0c0"/>
<rect x="22" y="420" width="3" height="24" fill="#c0c0c0"/>
<rect x="26" y="420" width="3" height="24" fill="#c0c0c0"/>
<rect x="30" y="420" width="3" height="22" fill="#c0c0c0"/>
<rect x="34" y="420" width="3" height="22" fill="#c0c0c0"/>
<rect x="38" y="420" width="3" height="22" fill="#c0c0c0"/>
<rect x="42" y="420" width="3" height="23" fill="#c0c0c0"/>
<rect x="46" y="420" width="3" height="24" fill="#c0c0c0"/>
<rect x="50" y="420" width="3" height="27" fill="#c0c0c0"/>
<rect x="54" y="420" width="3" height="29" fill="#c0c0c0"/>
<rect x="58" y="420" width="3" height="31" fill="#c0c0c0"/>
<rect x="62" y="420" width="3" height="33" fill="#c0c0c0"/>
<rect x="66" y="420" width="3" height="34" fill="#c0c0c0"/>
<rect x="70" y="420" width="3" height="34" fill="#c0c0c0"/>
<rect x="74" y="420" width="3" height="34" fill="#c0c0c0"/>
<rect x="78" y="420" width="3" height="33" fill="#c0c0c0"/>
<rect x="82" y="420" width="3" height="33" fill="#c0c0c0"/>
<rect x="86" y="420" width="3" height="31" fill="#c0c0c0"/>
<rect x="90" y="420" width="3" height="30" fill="#c0c0c0"/>
<rect x="94" y="420" width="3" height="29" fill="#c0c0c0"/>
<rect x="98" y="420" width="3" height="29" fill="#c0c0c0"/>
<rect x="102" y="420" width="3" height="27" fill="#c0c0c0"/>
<rect x="106" y="420" width="3" height="29" fill="#c0c0c0"/>
<rect x="110" y="420" width="3" height="31" fill="#c0c0c0"/>
<rect x="114" y="420" width="3" height="35" fill="#c0c0c0"/>
<rect x="118" y="420" width="3" height="37" fill="#c0c0c0"/>
<rect x="122" y="420" width="3" height="38" fill="#c0c0c0"/>
<rect x="126" y="420" width="3" height="37" fill="#c0c0c0"/>
<rect x="130" y="420" width="3" height="33" fill="#c0c0c0"/>
<rect x="134" y="420" width="3" height="33" fill="#c0c0c0"/>
<rect x="138" y="420" width="3" height="29" fill="#c0c0c0"/>
<rect x="142" y="420" width="3" height="24" fill="#c0c0c0"/>
<rect x="146" y="420" width="3" height="20" fill="#c0c0c0"/>
<rect x="150" y="420" width="3" height="17" fill="#c0c0c0"/>
<rect x="154" y="420" width="3" height="16" fill="#c0c0c0"/>
<rect x="158" y="420" width="3" height="14" fill="#c0c0c0"/>
<rect x="162" y="420" width="3" height="14" fill="#c0c0c0"/>
<rect x="166" y="420" width="3" height="15" fill="#c0c0c0"/>
<rect x="170" y="420" width="3" height="20" fill="#c0c0c0"/>
<rect x="174" y="420" width="3" height="23" fill="#c0c0c0"/>
<rect x="178" y="420" width="3" height="26" fill="#c0c0c0"/>
<rect x="182" y="420" width="3" height="27" fill="#c0c0c0"/>
<rect x="186" y="420" width="3" height="29" fill="#c0c0c0"/>
<rect x="190" y="420" width="3" height="29" fill="#c0c0c0"/>
<rect x="194" y="420" width="3" height="33" fill="#c0c0c0"/>
<rect x="198" y="420" width="3" height="35" fill="#c0c0c0"/>
<rect x="202" y="420" width="3" height="31" fill="#c0c0c0"/>
<rect x="206" y="420" width="3" height="29" fill="#c0c0c0"/>
<rect x="210" y="420" width="3" height="29" fill="#c0c0c0"/>
<rect x="214" y="420" width="3" height="30" fill="#c0c0c0"/>
<rect x="218" y="420" width="3" height="30" fill="#c0c0c0"/>
<rect x="222" y="420" width="3" height="31" fill="#c0c0c0"/>
<rect x="226" y="420" width="3" height="31" fill="#c0c0c0"/>
<rect x="230" y="420" width="3" height="33" fill="#c0c0c0"/>
<rect x="234" y="420" width="3" height="37" fill="#c0c0c0"/>
<rect x="238" y="420" width="3" height="35" fill="#c0c0c0"/>
<rect x="242" y="420" width="3" height="34" fill="#c0c0c0"/>
<rect x="246" y="420" width="3" height="33" fill="#c0c0c0"/>
<rect x="250" y="420" width="3" height="31" fill="#c0c0c0"/>
<rect x="254" y="420" width="3" height="27" fill="#c0c0c0"/>
<rect x="258" y="420" width="3" height="22" fill="#c0c0c0"/>
<rect x="262" y="420" width="3" height="19" fill="#c0c0c0"/>
<rect x="266" y="420" width="3" height="18" fill="#c0c0c0"/>
<rect x="270" y="420" width="3" height="16" fill="#c0c0c0"/>
<rect x="274" y="420" width="3" height="16" fill="#c0c0c0"/>
<rect x="278" y="420" width="3" height="16" fill="#c0c0c0"/>
<rect x="282" y="420" width="3" height="19" fill="#c0c0c0"/>
<rect x="286" y="420" width="3" height="24" fill="#c0c0c0"/>
<rect x="290" y="420" width="3" height="28" fill="#c0c0c0"/>
<rect x="294" y="420" width="3" height="31" fill="#c0c0c0"/>
<rect x="298" y="420" width="3" height="31" fill="#c0c0c0"/>
<rect x="302" y="420" width="3" height="33" fill="#c0c0c0"/>
<rect x="306" y="420" width="3" height="31" fill="#c0c0c0"/>
<rect x="310" y="420" width="3" height="31" fill="#c0c0c0"/>
<rect x="314" y="420" width="3" height="31" fill="#c0c0c0"/>
<rect x="318" y="420" width="3" height="30" fill="#c0c0c0"/>
<rect x="322" y="420" width="3" height="33" fill="#c0c0c0"/>
<rect x="326" y="420" width="3" height="35" fill="#c0c0c0"/>
<rect x="330" y="420" width="3" height="37" fill="#c0c0c0"/>
<rect x="334" y="420" width="3" height="35" fill="#c0c0c0"/>
<rect x="338" y="420" width="3" height="37" fill="#c0c0c0"/>
<rect x="342" y="420" width="3" height="37" fill="#c0c0c0"/>
<rect x="346" y="420" width="3" height="33" fill="#c0c0c0"/>
<rect x="350" y="420" width="3" height="31" fill="#c0c0c0"/>
<rect x="354" y="420" width="3" height="29" fill="#c0c0c0"/>
<rect x="358" y="420" width="3" height="29" fill="#c0c0c0"/>
<rect x="362" y="420" width="3" height="27" fill="#c0c0c0"/>
<rect x="366" y="420" width="3" height="26" fill="#c0c0c0"/>
<rect x="370" y="420" width="3" height="24" fill="#c0c0c0"/>
<rect x="374" y="420" width="3" height="24" fill="#c0c0c0"/>
<rect x="378" y="420" width="3" height="24" fill="#c0c0c0"/>
<rect x="382" y="420" width="3" height="25" fill="#c0c0c0"/>
<rect x="386" y="420" width="3" height="26" fill="#c0c0c0"/>
<rect x="390" y="420" width="3" height="29" fill="#c0c0c0"/>
<rect x="394" y="420" width="3" height="29" fill="#c0c0c0"/>
<rect x="398" y="420" width="3" height="29" fill="#c0c0c0"/>
<rect x="402" y="420" width="3" height="29" fill="#c0c0c0"/>
<rect x="406" y="420" width="3" height="26" fill="#c0c0c0"/>
<rect x="410" y="420" width="3" height="25" fill="#c0c0c0"/>
<rect x="414" y="420" width="3" height="23" fill="#c0c0c0"/>
<rect x="418" y="420" width="3" height="22" fill="#c0c0c0"/>
<rect x="422" y="420" width="3" height="21" fill="#c0c0c0"/>
<rect x="426" y="420" width="3" height="22" fill="#c0c0c0"/>
<rect x="430" y="420" width="3" height="21" fill="#c0c0c0"/>
<rect x="434" y="420" width="3" height="20" fill="#c0c0c0"/>
<rect x="438" y="420" width="3" height="19" fill="#c0c0c0"/>
<rect x="442" y="420" width="3" height="18" fill="#c0c0c0"/>
<rect x="446" y="420" width="3" height="15" fill="#c0c0c0"/>
<rect x="450" y="420" width="3" height="14" fill="#c0c0c0"/>
<rect x="454" y="420" width="3" height="14" fill="#c0c0c0"/>
<rect x="458" y="420" width="3" height="14" fill="#c0c0c0"/>
<rect x="462" y="420" width="3" height="13" fill="#c0c0c0"/>
<rect x="466" y="420" width="3" height="12" fill="#c0c0c0"/>
<rect x="470" y="420" width="3" height="13" fill="#c0c0c0"/>
<rect x="474" y="420" width="3" height="13" fill="#c0c0c0"/>
<rect x="478" y="420" width="3" height="15" fill="#c0c0c0"/>
<rect x="482" y="420" width="3" height="13" fill="#c0c0c0"/>
<rect x="486" y="420" width="3" height="14" fill="#c0c0c0"/>
<rect x="490" y="420" width="3" height="19" fill="#c0c0c0"/>
<rect x="494" y="420" width="3" height="22" fill="#c0c0c0"/>
<rect x="498" y="420" width="3" height="24" fill="#c0c0c0"/>
<rect x="502" y="420" width="3" height="24" fill="#c0c0c0"/>
<rect x="506" y="420" width="3" height="24" fill="#c0c0c0"/>
<rect x="510" y="420" width="3" height="22" fill="#c0c0c0"/>
<rect x="514" y="420" width="3" height="21" fill="#c0c0c0"/>
<rect x="518" y="420" width="3" height="21" fill="#c0c0c0"/>
<rect x="522" y="420" width="3" height="20" fill="#c0c0c0"/>
<rect x="526" y="420" width="3" height="18" fill="#c0c0c0"/>
<rect x="530" y="420" width="3" height="16" fill="#c0c0c0"/>
<rect x="534" y="420" width="3" height="12" fill="#c0c0c0"/>
<rect x="538" y="420" width="3" height="12" fill="#c0c0c0"/>
<rect x="542" y="420" width="3" height="12" fill="#c0c0c0"/>
<rect x="546" y="420" width="3" height="12" fill="#c0c0c0"/>
<rect x="550" y="420" width="3" height="10" fill="#c0c0c0"/>
<rect x="554" y="420" width="3" height="8" fill="#c0c0c0"/>
<rect x="558" y="420" width="3" height="7" fill="#c0c0c0"/>
<rect x="562" y="420" width="3" height="6" fill="#c0c0c0"/>
<rect x="566" y="420" width="3" height="6" fill="#c0c0c0"/>
<rect x="570" y="420" width="3" height="6" fill="#c0c0c0"/>
<rect x="574" y="420" width="3" height="8" fill="#c0c0c0"/>
<rect x="578" y="420" width="3" height="10" fill="#c0c0c0"/>
<rect x="582" y="420" width="3" height="9" fill="#c0c0c0"/>
<rect x="586" y="420" width="3" height="8" fill="#c0c0c0"/>
<rect x="590" y="420" width="3" height="8" fill="#c0c0c0"/>
<rect x="594" y="420" width="3" height="8" fill="#c0c0c0"/>
<rect x="598" y="420" width="3" height="7" fill="#c0c0c0"/>
<rect x="602" y="420" width="3" height="7" fill="#c0c0c0"/>
<rect x="606" y="420" width="3" height="8" fill="#c0c0c0"/>
<rect x="610" y="420" width="3" height="12" fill="#c0c0c0"/>
<rect x="614" y="420" width="3" height="14" fill="#c0c0c0"/>
<rect x="618" y="420" width="3" height="16" fill="#c0c0c0"/>
<rect x="622" y="420" width="3" height="16" fill="#c0c0c0"/>
<rect x="626" y="420" width="3" height="16" fill="#c0c0c0"/>
<rect x="630" y="420" width="3" height="18" fill="#c0c0c0"/>
<rect x="634" y="420" width="3" height="18" fill="#c0c0c0"/>
<rect x="638" y="420" width="3" height="14" fill="#c0c0c0"/>
<rect x="642" y="420" width="3" height="12" fill="#c0c0c0"/>
<rect x="646" y="420" width="3" height="10" fill="#c0c0c0"/>
<rect x="650" y="420" width="3" height="8" fill="#c0c0c0"/>
<rect x="654" y="420" width="3" height="5" fill="#c0c0c0"/>
<rect x="658" y="420" width="3" height="4" fill="#c0c0c0"/>
<rect x="662" y="420" width="3" height="3" fill="#c0c0c0"/>
<rect x="666" y="420" width="3" height="2" fill="#c0c0c0"/>
<rect x="670" y="419" width="3" height="1" fill="#c0c0c0"/>
<rect x="674" y="417" width="3" height="3" fill="#c0c0c0"/>
<rect x="678" y="417" width="3" height="3" fill="#c0c0c0"/>
<rect x="682" y="416" width="3" height="4" fill="#c0c0c0"/>
<rect x="686" y="416" width="3" height="4" fill="#c0c0c0"/>
<rect x="690" y="415" width="3" height="5" fill="#c0c0c0"/>
<rect x="694" y="412" width="3" height="8" fill="#c0c0c0"/>
<rect x="698" y="409" width="3" height="11" fill="#c0c0c0"/>
<rect x="702" y="405" width="3" height="15" fill="#c0c0c0"/>
<rect x="706" y="403" width="3" height="17" fill="#c0c0c0"/>
<rect x="710" y="403" width="3" height="17" fill="#c0c0c0"/>
<rect x="714" y="405" width="3" height="15" fill="#c0c0c0"/>
<rect x="718" y="406" width="3" height="14" fill="#c0c0c0"/>
<rect x="722" y="407" width="3" height="13" fill="#c0c0c0"/>
<rect x="726" y="408" width="3" height="12" fill="#c0c0c0"/>
<rect x="730" y="408" width="3" height="12" fill="#c0c0c0"/>
<rect x="734" y="408" width="3" height="12" fill="#c0c0c0"/>
<rect x="738" y="409" width="3" height="11" fill="#c0c0c0"/>
<rect x="742" y="409" width="3" height="11" fill="#c0c0c0"/>
<rect x="746" y="409" width="3" height="11" fill="#c0c0c0"/>
<rect x="750" y="410" width="3" height="10" fill="#c0c0c0"/>
<rect x="754" y="410" width="3" height="10" fill="#c0c0c0"/>
<rect x="758" y="409" width="3" height="11" fill="#c0c0c0"/>
<rect x="762" y="407" width="3" height="13" fill="#c0c0c0"/>
<rect x="766" y="405" width="3" height="15" fill="#c0c0c0"/>
<rect x="770" y="405" width="3" height="15" fill="#c0c0c0"/>
<rect x="774" y="402" width="3" height="18" fill="#c0c0c0"/>
<rect x="778" y="400" width="3" height="20" fill="#c0c0c0"/>
<rect x="782" y="399" width="3" height="21" fill="#c0c0c0"/>
<rect x="786" y="398" width="3" height="22" fill="#c0c0c0"/>
<rect x="790" y="398" width="3" height="22" fill="#c0c0c0"/>
<rect x="794" y="397" width="3" height="23" fill="#c0c0c0"/>
<rect x="798" y="399" width="3" height="21" fill="#c0c0c0"/>
<rect x="802" y="401" width="3" height="19" fill="#c0c0c0"/>
<rect x="806" y="403" width="3" height="17" fill="#c0c0c0"/>
<rect x="810" y="404" width="3" height="16" fill="#c0c0c0"/>
<rect x="814" y="405" width="3" height="15" fill="#c0c0c0"/>
<rect x="818" y="405" width="3" height="15" fill="#c0c0c0"/>
<rect x="822" y="407" width="3" height="13" fill="#c0c0c0"/>
<rect x="826" y="408" width="3" height="12" fill="#c0c0c0"/>
<rect x="830" y="411" width="3" height="9" fill="#c0c0c0"/>
<rect x="834" y="413" width="3" height="7" fill="#c0c0c0"/>
<rect x="838" y="415" width="3" height="5" fill="#c0c0c0"/>
<rect x="842" y="417" width="3" height="3" fill="#c0c0c0"/>
<rect x="846" y="419" width="3" height="1" fill="#c0c0c0"/>
<rect x="850" y="420" width="3" height="2" fill="#c0c0c0"/>
<rect x="854" y="420" width="3" height="6" fill="#c0c0c0"/>
<rect x="858" y="420" width="3" height="8" fill="#c0c0c0"/>
<rect x="862" y="420" width="3" height="10" fill="#c0c0c0"/>
<rect x="866" y="420" width="3" height="11" fill="#c0c0c0"/>
<rect x="870" y="420" width="3" height="13" fill="#c0c0c0"/>
<rect x="874" y="420" width="3" height="14" fill="#c0c0c0"/>
<rect x="878" y="420" width="3" height="15" fill="#c0c0c0"/>
<rect x="882" y="420" width="3" height="17" fill="#c0c0c0"/>
<rect x="886" y="420" width="3" height="17" fill="#c0c0c0"/>
<rect x="890" y="420" width="3" height="17" fill="#c0c0c0"/>
<rect x="894" y="420" width="3" height="17" fill="#c0c0c0"/>
<rect x="898" y="420" width="3" height="16" fill="#c0c0c0"/>
<rect x="902" y="420" width="3" height="14" fill="#c0c0c0"/>
<rect x="906" y="420" width="3" height="14" fill="#c0c0c0"/>
<rect x="910" y="420" width="3" height="19" fill="#c0c0c0"/>
<rect x="914" y="420" width="3" height="22" fill="#c0c0c0"/>
<rect x="918" y="420" width="3" height="24" fill="#c0c0c0"/>
<rect x="922" y="420" width="3" height="25" fill="#c0c0c0"/>
<polyline points="3.5,438.8 7.5,438.8 11.5,438.8 15.5,439.0 19.5,439.4 23.5,440.2 27.5,441.1 31.5,441.4 35.5,441.7 39.5,442.0 43.5,442.3 47.5,442.6 51.5,443.2 55.5,443.9 59.5,444.7 63.5,445.7 67.5,446.8 71.5,447.9 75.5,448.9 79.5,449.9 83.5,451.1 87.5,452.1 91.5,452.1 95.5,452.1 99.5,451.7 103.5,451.2 107.5,450.8 111.5,450.8 115.5,450.8 119.5,450.8 123.5,451.7 127.5,452.6 131.5,452.8 135.5,453.1 139.5,453.4 143.5,452.3 147.5,450.9 151.5,448.9 155.5,446.7 159.5,444.1 163.5,442.0 167.5,440.0 171.5,439.2 175.5,438.8 179.5,438.8 183.5,439.4 187.5,440.8 191.5,442.4 195.5,444.4 199.5,446.4 203.5,447.6 207.5,448.6 211.5,449.6 215.5,450.2 219.5,450.4 223.5,450.5 227.5,450.7 231.5,451.0 235.5,451.6 239.5,452.1 243.5,452.5 247.5,452.5 251.5,452.5 255.5,452.5 259.5,451.5 263.5,450.3 267.5,448.9 271.5,446.3 275.5,443.7 279.5,441.1 283.5,439.5 287.5,439.5 291.5,439.5 295.5,440.4 299.5,441.9 303.5,443.5 307.5,445.1 311.5,446.7 315.5,448.3 319.5,449.7 323.5,451.0 327.5,452.1 331.5,452.6 335.5,453.0 339.5,453.6 343.5,454.1 347.5,454.1 351.5,454.1 355.5,454.1 359.5,453.3 363.5,452.3 367.5,451.2 371.5,449.8 375.5,448.5 379.5,447.1 383.5,446.4 387.5,445.9 391.5,445.5 395.5,445.5 399.5,446.2 403.5,446.4 407.5,446.4 411.5,446.4 415.5,446.4 419.5,446.4 423.5,445.2 427.5,443.9 431.5,442.9 435.5,441.9 439.5,440.9 443.5,439.9 447.5,438.9 451.5,437.9 455.5,437.2 459.5,436.6 463.5,436.0 467.5,435.2 471.5,434.0 475.5,433.2 479.5,433.4 483.5,433.5 487.5,433.5 491.5,434.1 495.5,435.7 499.5,437.2 503.5,438.3 507.5,439.4 511.5,440.5 515.5,441.2 519.5,441.5 523.5,442.2 527.5,441.5 531.5,440.5 535.5,439.4 539.5,438.0 543.5,436.5 547.5,435.1 551.5,434.2 555.5,433.3 559.5,431.8 563.5,430.3 567.5,429.4 571.5,428.5 575.5,428.1 579.5,427.8 583.5,427.8 587.5,427.8 591.5,427.8 595.5,427.8 599.5,427.8 603.5,427.8 607.5,428.1 611.5,428.7 615.5,429.3 619.5,430.1 623.5,430.9 627.5,431.7 631.5,432.6 635.5,433.5 639.5,434.4 643.5,434.5 647.5,434.5 651.5,434.4 655.5,432.9 659.5,431.2 663.5,429.6 667.5,428.1 671.5,426.3 675.5,424.2 679.5,422.0 683.5,420.7 687.5,419.5 691.5,418.4 695.5,417.4 699.5,416.0 703.5,414.2 707.5,412.5 711.5,410.8 715.5,409.1 719.5,407.8 723.5,406.8 727.5,406.3 731.5,406.3 735.5,406.3 739.5,406.3 743.5,407.1 747.5,408.4 751.5,408.9 755.5,409.3 759.5,409.3 763.5,409.3 767.5,409.3 771.5,408.4 775.5,407.3 779.5,406.3 783.5,405.3 787.5,403.7 791.5,401.9 795.5,400.9 799.5,400.3 803.5,400.1 807.5,400.2 811.5,400.2 815.5,400.3 819.5,400.8 823.5,402.0 827.5,403.2 831.5,404.8 835.5,406.4 839.5,408.0 843.5,409.7 847.5,411.4 851.5,413.1 855.5,415.3 859.5,417.9 863.5,420.2 867.5,422.1 871.5,424.0 875.5,426.0 879.5,428.2 883.5,430.4 887.5,431.9 891.5,433.3 895.5,434.5 899.5,435.0 903.5,435.5 907.5,435.5 911.5,435.5 915.5,436.1 919.5,437.3 923.5,438.4" fill="none" stroke="#ff0000" stroke-width="1" shape-rendering="crispEdges"/>
</g>
<rect x="1166" y="395" width="2" height="1" fill="#000"/>
<rect x="1166" y="420" width="2" height="1" fill="#000"/>
<rect x="1166" y="459" width="2" height="1" fill="#000"/>
<g clip-path="url(#cr)">
<line x1="4" y1="484.5" x2="1165" y2="484.5" stroke="#c0c0c0" stroke-dasharray="3,3"/>
<line x1="4" y1="510.5" x2="1165" y2="510.5" stroke="#c0c0c0" stroke-dasharray="3,3"/>
<polyline points="3.5,505.5 7.5,505.5 11.5,507.2 15.5,509.6 19.5,510.1 23.5,510.1 27.5,507.5 31.5,506.0 35.5,507.8 39.5,508.4 43.5,510.6 47.5,512.1 51.5,513.6 55.5,514.9 59.5,515.8 63.5,517.8 67.5,517.4 71.5,512.2 75.5,512.2 79.5,513.3 83.5,513.2 87.5,508.2 91.5,509.7 95.5,509.8 99.5,509.5 103.5,509.5 107.5,512.4 111.5,515.6 115.5,517.8 119.5,515.5 123.5,513.1 127.5,511.3 131.5,505.2 135.5,506.8 139.5,500.9 143.5,498.2 147.5,496.6 151.5,497.5 155.5,500.0 159.5,499.2 163.5,503.3 167.5,509.1 171.5,506.4 175.5,506.2 179.5,509.8 183.5,507.6 187.5,508.4 191.5,506.3 195.5,510.5 199.5,511.5 203.5,503.2 207.5,501.5 211.5,504.6 215.5,503.6 219.5,505.7 223.5,506.2 227.5,506.9 231.5,508.6 235.5,511.1 239.5,507.1 243.5,505.2 247.5,505.2 251.5,501.2 255.5,499.3 259.5,497.2 263.5,497.5 267.5,499.7 271.5,501.2 275.5,501.7 279.5,503.3 283.5,506.6 287.5,509.6 291.5,512.1 295.5,512.4 299.5,506.9 303.5,507.2 307.5,505.1 311.5,505.7 315.5,505.3 319.5,506.0 323.5,507.8 327.5,509.9 331.5,510.1 335.5,507.0 339.5,507.9 343.5,508.4 347.5,503.0 351.5,502.6 355.5,503.4 359.5,505.1 363.5,504.3 367.5,503.2 371.5,502.9 375.5,505.1 379.5,506.3 383.5,507.8 387.5,509.8 391.5,511.5 395.5,509.6 399.5,509.3 403.5,507.8 407.5,504.1 411.5,503.5 415.5,503.5 419.5,504.0 423.5,505.2 427.5,507.8 431.5,506.2 435.5,506.2 439.5,504.7 443.5,501.6 447.5,499.5 451.5,500.2 455.5,504.3 459.5,504.5 463.5,499.6 467.5,500.8 471.5,504.8 475.5,507.0 479.5,506.2 483.5,505.0 487.5,512.1 491.5,514.0 495.5,510.9 499.5,506.5 503.5,506.7 507.5,505.2 511.5,502.7 515.5,504.9 519.5,504.6 523.5,502.3 527.5,499.6 531.5,499.1 535.5,496.6 539.5,500.1 543.5,503.0 547.5,502.4 551.5,497.3 555.5,495.1 559.5,496.5 563.5,500.8 567.5,497.3 571.5,498.7 575.5,503.6 579.5,503.3 583.5,499.3 587.5,500.2 591.5,500.5 595.5,498.1 599.5,500.2 603.5,500.7 607.5,502.9 611.5,505.8 615.5,504.6 619.5,506.4 623.5,505.3 627.5,505.2 631.5,507.2 635.5,503.7 639.5,499.1 643.5,495.5 647.5,496.0 651.5,495.2 655.5,493.6 659.5,496.0 663.5,497.4 667.5,496.3 671.5,493.6 675.5,491.3 679.5,495.8 683.5,494.7 687.5,495.5 691.5,494.4 695.5,487.8 699.5,489.3 703.5,485.8 707.5,489.4 711.5,491.6 715.5,495.8 719.5,494.9 723.5,494.6 727.5,494.6 731.5,494.6 735.5,493.5 739.5,494.6 743.5,493.5 747.5,493.5 751.5,494.4 755.5,492.5 759.5,490.4 763.5,487.5 767.5,487.9 771.5,488.5 775.5,485.2 779.5,484.7 783.5,487.3 787.5,485.7 791.5,486.6 795.5,486.6 799.5,490.7 803.5,494.3 807.5,494.3 811.5,491.8 815.5,492.0 819.5,491.3 823.5,493.6 827.5,495.2 831.5,499.9 835.5,500.4 839.5,501.2 843.5,500.9 847.5,503.8 851.5,506.1 855.5,508.1 859.5,508.3 863.5,508.3 867.5,508.4 871.5,511.0 875.5,509.9 879.5,510.0 883.5,511.8 887.5,511.3 891.5,509.7 895.5,509.2 899.5,503.6 903.5,503.4 907.5,508.0 911.5,515.3 915.5,515.6 919.5,516.3 923.5,513.0" fill="none" stroke="#1e90ff" stroke-width="1" shape-rendering="crispEdges"/>
</g>
<rect x="1166" y="464" width="2" height="1" fill="#000"/><rect x="1166" y="530" width="2" height="1" fill="#000"/>
<rect x="3" y="532" width="1" height="3" fill="#000"/>
<rect x="67" y="532" width="1" height="3" fill="#000"/>
<rect x="131" y="532" width="1" height="3" fill="#000"/>
<rect x="195" y="532" width="1" height="3" fill="#000"/>
<rect x="259" y="532" width="1" height="3" fill="#000"/>
<rect x="323" y="532" width="1" height="3" fill="#000"/>
<rect x="387" y="532" width="1" height="3" fill="#000"/>
<rect x="451" y="532" width="1" height="3" fill="#000"/>
<rect x="515" y="532" width="1" height="3" fill="#000"/>
<rect x="579" y="532" width="1" height="3" fill="#000"/>
<rect x="643" y="532" width="1" height="3" fill="#000"/>
<rect x="707" y="532" width="1" height="3" fill="#000"/>
<rect x="771" y="532" width="1" height="3" fill="#000"/>
<rect x="835" y="532" width="1" height="3" fill="#000"/>
<rect x="899" y="532" width="1" height="3" fill="#000"/>
<rect x="1167" y="154" width="38" height="11" fill="#ff0000"/>
<rect x="1167" y="237" width="38" height="11" fill="#ff0000"/>
<rect x="1167" y="302" width="38" height="11" fill="#00ff00"/>
<rect x="1167" y="364" width="38" height="11" fill="#000000"/>
<rect x="1167" y="375" width="38" height="11" fill="#0000ff"/>
<rect x="1159" y="157" width="6" height="6" fill="#ff0000"/><rect x="1161" y="159" width="2" height="2" fill="#fff"/>
<rect x="2" y="157" width="6" height="6" fill="#ff0000"/><rect x="4" y="159" width="2" height="2" fill="#fff"/>
<rect x="1159" y="240" width="6" height="6" fill="#ff0000"/><rect x="1161" y="242" width="2" height="2" fill="#fff"/>
<rect x="2" y="240" width="6" height="6" fill="#ff0000"/><rect x="4" y="242" width="2" height="2" fill="#fff"/>
<rect x="1159" y="305" width="6" height="6" fill="#00ff00"/><rect x="1161" y="307" width="2" height="2" fill="#fff"/>
<rect x="2" y="305" width="6" height="6" fill="#00ff00"/><rect x="4" y="307" width="2" height="2" fill="#fff"/>
<rect x="1165" y="26" width="1" height="365" fill="#000"/>
<rect x="0" y="552" width="1205" height="1" fill="#e4e4e4"/>
<rect x="0" y="554" width="1205" height="1" fill="#000"/>
<rect x="0" y="556" width="1205" height="24" fill="#f0f0f0"/>
<rect x="0" y="573" width="1205" height="2" fill="#fcfcfc"/>
<rect x="0" y="577" width="1205" height="1" fill="#d8d8d8"/>
<rect x="0" y="578" width="1205" height="1" fill="#9a9a9a"/>
<rect x="416.5" y="554.5" width="103" height="18" fill="#fff" stroke="#000"/>
<rect x="108" y="557" width="1" height="14" fill="#6a6a6a"/>
<rect x="212" y="557" width="1" height="14" fill="#6a6a6a"/>
<rect x="312" y="557" width="1" height="14" fill="#6a6a6a"/>
<rect x="596" y="557" width="1" height="14" fill="#6a6a6a"/>
<path d="M1184 560 L1181 563 L1184 566 Z" fill="#8a8a8a"/>
<path d="M1200 560 L1203 563 L1200 566 Z" fill="#8a8a8a"/>
</svg>
<div class="a ax" style="left:18px;top:29px;letter-spacing:0">USDCNH,Daily</div><div class="a ax" style="left:89px;top:29px;letter-spacing:-0.4px">6.40898 6.42354 6.40897 6.42033</div>
<div class="a ax" style="left:1171px;top:54px">6.92840</div>
<div class="a ax" style="left:1171px;top:87px">6.87560</div>
<div class="a ax" style="left:1171px;top:120px">6.82120</div>
<div class="a ax" style="left:1171px;top:187px">6.71400</div>
<div class="a ax" style="left:1171px;top:219px">6.65960</div>
<div class="a ax" style="left:1171px;top:252px">6.60520</div>
<div class="a ax" style="left:1171px;top:286px">6.55240</div>
<div class="a ax" style="left:1171px;top:319px">6.49800</div>
<div class="a ax" style="left:1171px;top:351px">6.44360</div>
<div class="a ax" style="left:1171px;top:384px">6.39080</div>
<div class="a bx" style="left:1171px;top:155px;color:#fff">6.76234</div>
<div class="a bx" style="left:1171px;top:238px;color:#fff">6.62715</div>
<div class="a bx" style="left:1171px;top:303px;color:#fff">6.52069</div>
<div class="a bx" style="left:1171px;top:365px;color:#fff">6.42033</div>
<div class="a bx" style="left:1171px;top:376px;color:#fff">6.40071</div>
<div class="a ax" style="left:1169px;top:397px">0.025623</div>
<div class="a ax" style="left:1169px;top:417px">0.00</div>
<div class="a ax" style="left:1169px;top:450px">-0.04068</div>
<div class="a ax" style="left:1169px;top:466px">100</div>
<div class="a ax" style="left:1169px;top:481px">70</div>
<div class="a ax" style="left:1169px;top:507px">30</div>
<div class="a ax" style="left:1169px;top:521px">0</div>
<div class="a ax" style="left:7px;top:398px;letter-spacing:-0.3px;-webkit-text-stroke:0">MACD(12,26,9) -0.025126 -0.018571</div>
<div class="a ax" style="left:7px;top:467px;letter-spacing:-0.3px;-webkit-text-stroke:0">RSI(14) 28.1725</div>
<div class="a ax" style="left:2px;top:536px;font-size:9.5px;word-spacing:1px;letter-spacing:-0.2px">14 Aug 2020</div>
<div class="a ax" style="left:66px;top:536px;font-size:9.5px;word-spacing:1px;letter-spacing:-0.2px">2 Sep 2020</div>
<div class="a ax" style="left:130px;top:536px;font-size:9.5px;word-spacing:1px;letter-spacing:-0.2px">21 Sep 2020</div>
<div class="a ax" style="left:194px;top:536px;font-size:9.5px;word-spacing:1px;letter-spacing:-0.2px">9 Oct 2020</div>
<div class="a ax" style="left:258px;top:536px;font-size:9.5px;word-spacing:1px;letter-spacing:-0.2px">28 Oct 2020</div>
<div class="a ax" style="left:322px;top:536px;font-size:9.5px;word-spacing:1px;letter-spacing:-0.2px">16 Nov 2020</div>
<div class="a ax" style="left:386px;top:536px;font-size:9.5px;word-spacing:1px;letter-spacing:-0.2px">4 Dec 2020</div>
<div class="a ax" style="left:450px;top:536px;font-size:9.5px;word-spacing:1px;letter-spacing:-0.2px">23 Dec 2020</div>
<div class="a ax" style="left:514px;top:536px;font-size:9.5px;word-spacing:1px;letter-spacing:-0.2px">12 Jan 2021</div>
<div class="a ax" style="left:578px;top:536px;font-size:9.5px;word-spacing:1px;letter-spacing:-0.2px">30 Jan 2021</div>
<div class="a ax" style="left:642px;top:536px;font-size:9.5px;word-spacing:1px;letter-spacing:-0.2px">18 Feb 2021</div>
<div class="a ax" style="left:706px;top:536px;font-size:9.5px;word-spacing:1px;letter-spacing:-0.2px">9 Mar 2021</div>
<div class="a ax" style="left:770px;top:536px;font-size:9.5px;word-spacing:1px;letter-spacing:-0.2px">27 Mar 2021</div>
<div class="a ax" style="left:834px;top:536px;font-size:9.5px;word-spacing:1px;letter-spacing:-0.2px">15 Apr 2021</div>
<div class="a ax" style="left:898px;top:536px;font-size:9.5px;word-spacing:1px;letter-spacing:-0.2px">4 May 2021</div>
<div class="a tab" style="left:16px;top:559px;color:#6a6a6a;letter-spacing:0">EURUSD,Daily</div>
<div class="a tab" style="left:119px;top:559px;color:#6a6a6a;letter-spacing:0">AUDUSD,Daily</div>
<div class="a tab" style="left:222px;top:559px;color:#6a6a6a;letter-spacing:0">USDCHF,Daily</div>
<div class="a tab" style="left:323px;top:559px;color:#6a6a6a;letter-spacing:0">USDCAD,Daily</div>
<div class="a tab" style="left:427px;top:559px;color:#000;letter-spacing:0">USDCNH,Daily</div>
<div class="a tab" style="left:532px;top:559px;color:#6a6a6a;letter-spacing:0.3px">UKOil,H1</div>
<div class="a" style="left:4px;top:43px;width:223px;height:68px;background:#fff"></div>
<div class="a" style="left:6px;top:45px;width:52px;height:25px;background:linear-gradient(#5c5cf6,#3a3ae4);border:1px solid #2020c8;border-bottom:none"></div>
<div class="a" style="left:173px;top:45px;width:52px;height:25px;background:linear-gradient(#5c5cf6,#3a3ae4);border:1px solid #2020c8;border-bottom:none"></div>
<div class="a" style="left:6px;top:69px;width:109px;height:40px;background:linear-gradient(#3434dc,#0000a8)"></div>
<div class="a" style="left:117px;top:69px;width:108px;height:40px;background:linear-gradient(#3434dc,#0000a8)"></div>
<div class="a" style="left:10px;top:69px;width:45px;height:1px;background:#a8a8ff"></div>
<div class="a" style="left:177px;top:69px;width:44px;height:1px;background:#a8a8ff"></div>
<div class="a" style="left:60px;top:45px;width:111px;height:22px;background:#fff;border:1px solid #acacb4"></div>
<div class="a" style="left:81px;top:46px;width:1px;height:20px;background:#acacb4"></div>
<div class="a" style="left:149px;top:46px;width:1px;height:20px;background:#acacb4"></div>
<div class="a" style="left:62px;top:47px;width:18px;height:18px;background:linear-gradient(#ededed 0,#e6e6e6 33%,#d6d6d6 33%,#d2d2d2 100%)"></div>
<div class="a" style="left:151px;top:47px;width:18px;height:18px;background:linear-gradient(#ededed 0,#e6e6e6 33%,#d6d6d6 33%,#d2d2d2 100%)"></div>
<svg style="position:absolute;left:0;top:0" width="230" height="70"><path d="M67.5 54 L73.5 54 L70.5 57 Z" fill="#4858a8"/><path d="M156 57 L162 57 L159 54 Z" fill="#4858a8"/></svg>
<div class="a" style="left:122px;top:50px;font-size:12px;color:#000">3.00</div>
<div class="a" style="left:18px;top:51px;font-size:12px;color:#eeeeff">SELL</div>
<div class="a" style="left:186px;top:51px;font-size:12px;color:#eeeeff">BUY</div>
<div class="a" style="left:26px;top:90px;font-size:12px;font-weight:bold;color:#fff">6.42</div>
<div class="a" style="left:52px;top:70px;font-size:34px;color:#fff;-webkit-text-stroke:0.7px #1c1cc4">03</div>
<div class="a" style="left:93px;top:74px;font-size:12px;font-weight:bold;color:#fff">6</div>
<div class="a" style="left:136px;top:90px;font-size:12px;font-weight:bold;color:#fff">6.42</div>
<div class="a" style="left:164px;top:70px;font-size:34px;letter-spacing:-1.5px;color:#fff;-webkit-text-stroke:0.7px #1c1cc4">35</div>
<div class="a" style="left:204px;top:74px;font-size:12px;font-weight:bold;color:#fff">7</div>

</body></html>
